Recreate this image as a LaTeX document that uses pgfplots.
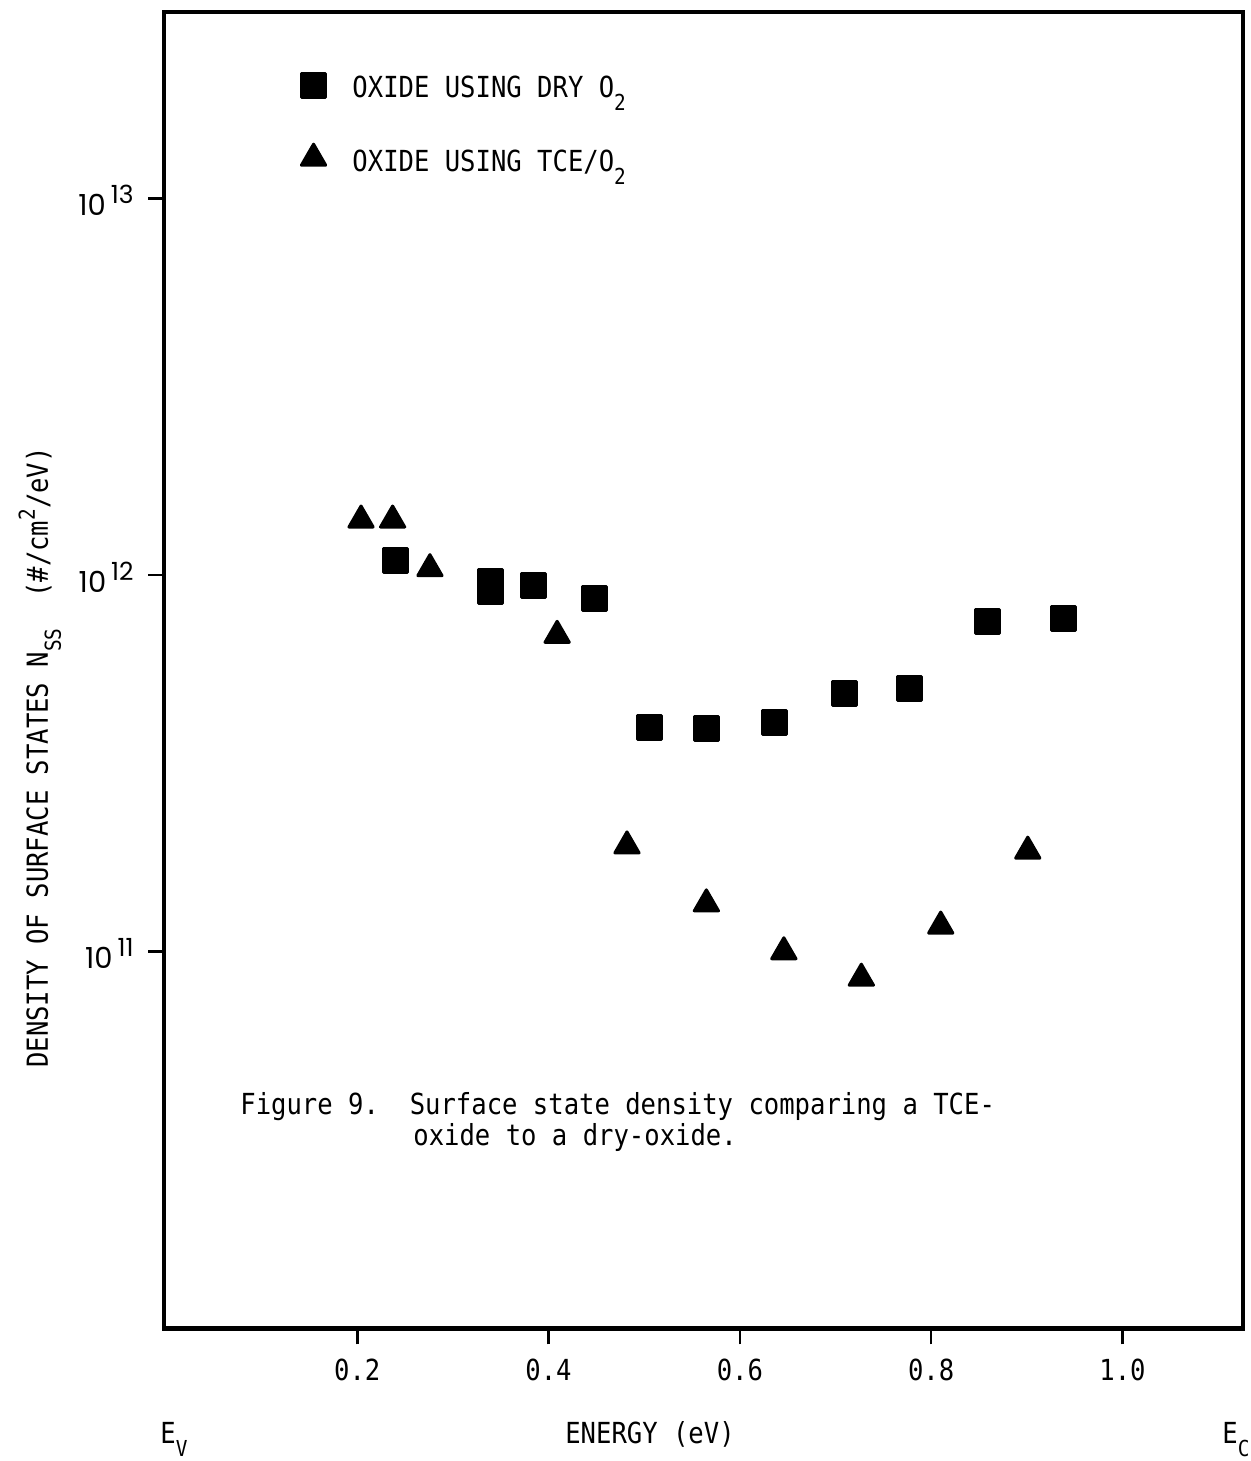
\documentclass[border=0pt]{standalone}
\usepackage{fontspec}
\setmainfont{DejaVu Sans Mono}[FakeStretch=0.882]
\newfontfamily\tickfont{Poppins}
\usepackage{pgfplots}
\pgfplotsset{compat=1.18}
\newcommand{\tw}{\fontsize{14.5}{16}\selectfont}
\newcommand{\sub}[1]{\raisebox{-6.5pt}{\fontsize{11}{11}\selectfont #1}}
\newcommand{\sups}[1]{\raisebox{6.5pt}{\fontsize{11}{11}\selectfont #1}}
\newcommand{\dec}[1]{{\tickfont\fontsize{14.5}{14.5}\selectfont 10\hspace{2.5pt}\raisebox{6pt}{\fontsize{12.5}{12.5}\selectfont #1}}}
\pgfplotsset{
  sqimg/.style={legend image code/.code={\draw[##1] plot coordinates {(0pt,1.5pt)}; \path (19.25pt,0pt);}},
  trimg/.style={legend image code/.code={\draw[##1] plot coordinates {(0pt,1.8pt)}; \path (19.25pt,0pt);}},
}
\begin{document}
\begin{tikzpicture}
\begin{axis}[
  at={(0,0)}, anchor=south west,
  scale only axis, width=539.5pt, height=658.25pt,
  ymode=log, xmin=-0.002, xmax=1.126, ymin=1e10, ymax=3.126e13,
  xtick={0.2,0.4,0.6,0.8,1.0}, xticklabels={0.2,0.4,0.6,0.8,1.0},
  ytick={1e11,1e12,1e13}, yticklabels={\dec{11},\dec{12},\dec{13}},
  yminorticks=false, xminorticks=false,
  tick align=outside, xtick pos=bottom, ytick pos=left,
  major tick length=8pt,
  axis line style={line width=2.2pt},
  every tick/.style={black, line width=1.3pt},
  xticklabel style={font=\tw, anchor=north, inner sep=0pt, yshift=-7.25pt},
  yticklabel style={anchor=east, inner sep=0pt, xshift=-7pt, yshift=-1pt},
  legend style={draw=none, fill=none, at={(0.127,0.9536)}, anchor=north west,
    font=\tw, inner sep=0pt, nodes={inner sep=0pt}, row sep=21.75pt},
  legend cell align=left,
]
\addplot[only marks, mark=square*, mark size=6pt,
  mark options={fill=black, draw=black, line width=1.5pt, line join=round},
  sqimg]
  coordinates {
  (0.240,1.09e12) (0.339,9.61e11) (0.339,9.04e11) (0.384,9.36e11)
  (0.448,8.64e11) (0.506,3.95e11) (0.565,3.91e11) (0.636,4.07e11)
  (0.709,4.84e11) (0.777,4.99e11) (0.859,7.52e11) (0.938,7.69e11)
  };
\addlegendentry{OXIDE USING DRY O\sub{2}}
\addplot[only marks, mark=triangle*, mark size=7pt,
  mark options={fill=black, draw=black, line width=1.5pt, line join=round},
  trimg]
  coordinates {
  (0.204,1.40e12) (0.237,1.40e12) (0.276,1.04e12) (0.409,6.92e11)
  (0.482,1.91e11) (0.565,1.34e11) (0.646,1.00e11) (0.727,8.51e10)
  (0.810,1.17e11) (0.901,1.85e11)
  };
\addlegendentry{OXIDE USING TCE/O\sub{2}}
\end{axis}
\begin{scope}[x=0.5pt, y=-0.5pt, shift={(-164,-1328.5)}, font=\tw]
  \node[rotate=90, anchor=base west, inner sep=0pt] at (48,1068)
    {DENSITY OF SURFACE STATES N\sub{SS}\ \ (\#/cm\sups{2}/eV)};
  \node[anchor=base west, inner sep=0pt] at (240,1115)
    {Figure 9.\ \ Surface state density comparing a TCE-};
  \node[anchor=base west, inner sep=0pt] at (413,1146) {oxide to a dry-oxide.};
  \node[anchor=base, inner sep=0pt] at (650,1443) {ENERGY (eV)};
  \node[anchor=base west, inner sep=0pt] at (160,1443) {E\sub{V}};
  \node[anchor=base west, inner sep=0pt] at (1222,1443) {E\sub{C}};
  \pgfresetboundingbox
  \path[use as bounding box] (0,0) rectangle (1251,1461);
\end{scope}
\end{tikzpicture}
\end{document}
